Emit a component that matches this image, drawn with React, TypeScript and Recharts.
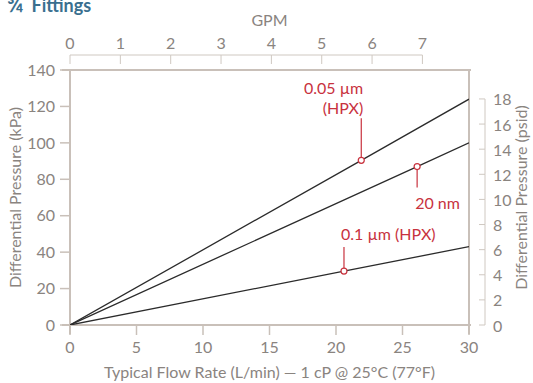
import React from "react"
import {
	LineChart,
	Line,
	XAxis,
	YAxis,
	ReferenceLine,
} from "recharts"

// filter series: flow rate (L/min) vs differential pressure (kPa)
const hpx005 = [
	{ x: 0, y: 0 },
	{ x: 21.9, y: 90.4 },
	{ x: 30, y: 124 },
]
const nm20 = [
	{ x: 0, y: 0 },
	{ x: 26.1, y: 87 },
	{ x: 30, y: 100 },
]
const hpx01 = [
	{ x: 0, y: 0 },
	{ x: 20.6, y: 29.6 },
	{ x: 30, y: 43 },
]

const lpmTicks = [0, 5, 10, 15, 20, 25, 30]
const kpaTicks = [0, 20, 40, 60, 80, 100, 120, 140]
const gpmTicks = [0, 1, 2, 3, 4, 5, 6, 7]
const psiTicks = [0, 2, 4, 6, 8, 10, 12, 14, 16, 18]

const LPM_MAX = 30
const KPA_MAX = 140
const GPM_MAX = LPM_MAX / 3.78541
const PSI_MAX = KPA_MAX / 6.89476

const W = 533
const H = 383
const PLOT = { left: 70, top: 70, right: 64, bottom: 58 }
const PLOT_W = W - PLOT.left - PLOT.right
const PLOT_H = H - PLOT.top - PLOT.bottom

const TEXT = "#8a847f"
const FRAME = "#c9c0b9"
const THIN = "#cfc8c1"
const RED = "#c8323e"
const INK = "#2b2b2b"
const FS = 16

const GpmTick = (props: any) => {
	const { x, payload, index } = props
	const step = PLOT_W / GPM_MAX
	const ly = PLOT.top - 15
	return (
		<g>
			{index < gpmTicks.length - 1 && (
				<line x1={x} y1={ly} x2={x + step} y2={ly} stroke={THIN} strokeWidth={1} />
			)}
			<line x1={x} y1={ly} x2={x} y2={ly + 9} stroke={THIN} strokeWidth={1} />
			<text x={x} y={ly - 13} fill={TEXT} fontSize={FS} textAnchor="middle" dominantBaseline="central">
				{payload.value}
			</text>
		</g>
	)
}

const PsiTick = (props: any) => {
	const { x, y, payload } = props
	const step = (2 / PSI_MAX) * PLOT_H
	const lx = x + 16
	return (
		<g>
			{payload.value > 0 && (
				<line x1={lx} y1={y} x2={lx} y2={y + step} stroke={THIN} strokeWidth={1} />
			)}
			<line x1={lx - 6} y1={y} x2={lx} y2={y} stroke={THIN} strokeWidth={1} />
			<text x={x + 24} y={y} fill={TEXT} fontSize={FS} textAnchor="start" dominantBaseline="central">
				{payload.value}
			</text>
		</g>
	)
}

const frameShape = (props: any) => {
	const { x1, y1, x2, y2 } = props
	if (y1 === y2) {
		return <line x1={Math.min(x1, x2) - 8} y1={y1} x2={Math.max(x1, x2) + 2} y2={y2} stroke={FRAME} strokeWidth={2} />
	}
	return <line x1={x1} y1={Math.min(y1, y2)} x2={x2} y2={Math.max(y1, y2) + 9} stroke={FRAME} strokeWidth={2} />
}

type Note = { lines: string[]; dy: number; leader: number; anchor: "start" | "end"; dx: number }

const makeDot = (note: Note) => (props: any) => {
	const { cx, cy, index } = props
	if (index !== 1) return <g key={`d${index}`} />
	const up = note.leader < 0
	return (
		<g key={`d${index}`}>
			<line x1={cx} y1={cy + (up ? -3 : 3)} x2={cx} y2={cy + note.leader} stroke={RED} strokeWidth={1.2} />
			<circle cx={cx} cy={cy} r={3} fill="#fff" stroke={RED} strokeWidth={1.2} />
			{note.lines.map((t, i) => (
				<text
					key={t}
					x={cx + note.dx}
					y={cy + note.dy + i * 20}
					fill={RED}
					fontSize={FS}
					textAnchor={note.anchor}
					dominantBaseline="central"
				>
					{t}
				</text>
			))}
		</g>
	)
}

const dot005 = makeDot({ lines: ["0.05 µm", "(HPX)"], dy: -73, leader: -42, anchor: "end", dx: 2 })
const dot20 = makeDot({ lines: ["20 nm"], dy: 36, leader: 21, anchor: "start", dx: -2 })
const dot01 = makeDot({ lines: ["0.1 µm (HPX)"], dy: -38, leader: -24, anchor: "start", dx: -3 })

const tickStyle = { fill: TEXT, fontSize: FS }
const titleStyle = { fill: TEXT, fontSize: FS }

export default function App() {
	return (
		<div style={{ position: "relative", width: W, height: H, fontFamily: "Lato, 'Open Sans', sans-serif", overflow: "hidden" }}>
			<style>{"body{margin:0}"}</style>
			<div
				style={{
					position: "absolute",
					left: 7,
					top: -5,
					fontSize: 18,
					lineHeight: "18px",
					fontWeight: 700,
					color: "#3a6f8f",
					whiteSpace: "nowrap",
				}}
			>
				<span style={{ fontSize: 22, marginRight: 8 }}>¾</span>Fittings
			</div>
			<LineChart width={W} height={H} margin={{ top: 0, right: 0, bottom: 0, left: 0 }}>
				<XAxis
					xAxisId="lpm"
					type="number"
					dataKey="x"
					domain={[0, LPM_MAX]}
					ticks={lpmTicks}
					height={PLOT.bottom}
					axisLine={false}
					tickLine={{ stroke: FRAME, strokeWidth: 1.5 }}
					tickSize={10}
					tickMargin={7}
					tick={tickStyle}
					allowDataOverflow
					label={{ value: "Typical Flow Rate (L/min) — 1 cP @ 25°C (77°F)", position: "center", dy: 18, ...titleStyle }}
				/>
				<XAxis
					xAxisId="gpm"
					orientation="top"
					type="number"
					dataKey="x"
					domain={[0, GPM_MAX]}
					ticks={gpmTicks}
					interval={0}
					height={PLOT.top}
					axisLine={false}
					tickLine={false}
					tick={<GpmTick />}
					allowDataOverflow
					label={{ value: "GPM", position: "center", dy: -15, ...titleStyle }}
				/>
				<YAxis
					yAxisId="kpa"
					type="number"
					domain={[0, KPA_MAX]}
					ticks={kpaTicks}
					width={PLOT.left}
					axisLine={false}
					tickLine={{ stroke: FRAME, strokeWidth: 1.5 }}
					tickSize={10}
					tickMargin={5}
					tick={tickStyle}
					allowDataOverflow
					label={{ value: "Differential Pressure (kPa)", angle: -90, position: "center", dx: -20, ...titleStyle }}
				/>
				<YAxis
					yAxisId="psi"
					orientation="right"
					type="number"
					domain={[0, PSI_MAX]}
					ticks={psiTicks}
					interval={0}
					width={PLOT.right}
					axisLine={false}
					tickLine={false}
					tickSize={0}
					tickMargin={0}
					tick={<PsiTick />}
					allowDataOverflow
					label={{ value: "Differential Pressure (psid)", angle: -90, position: "center", dx: 20, ...titleStyle }}
				/>
				<ReferenceLine xAxisId="lpm" yAxisId="kpa" y={KPA_MAX} shape={frameShape} />
				<ReferenceLine xAxisId="lpm" yAxisId="kpa" y={0} shape={frameShape} />
				<ReferenceLine xAxisId="lpm" yAxisId="kpa" x={0} shape={frameShape} />
				<ReferenceLine xAxisId="lpm" yAxisId="kpa" x={LPM_MAX} shape={frameShape} />
				<Line xAxisId="lpm" yAxisId="kpa" data={hpx01} dataKey="y" type="linear" stroke={INK} strokeWidth={1.3} dot={dot01} activeDot={false} isAnimationActive={false} />
				<Line xAxisId="lpm" yAxisId="kpa" data={nm20} dataKey="y" type="linear" stroke={INK} strokeWidth={1.3} dot={dot20} activeDot={false} isAnimationActive={false} />
				<Line xAxisId="lpm" yAxisId="kpa" data={hpx005} dataKey="y" type="linear" stroke={INK} strokeWidth={1.3} dot={dot005} activeDot={false} isAnimationActive={false} />
			</LineChart>
		</div>
	)
}
